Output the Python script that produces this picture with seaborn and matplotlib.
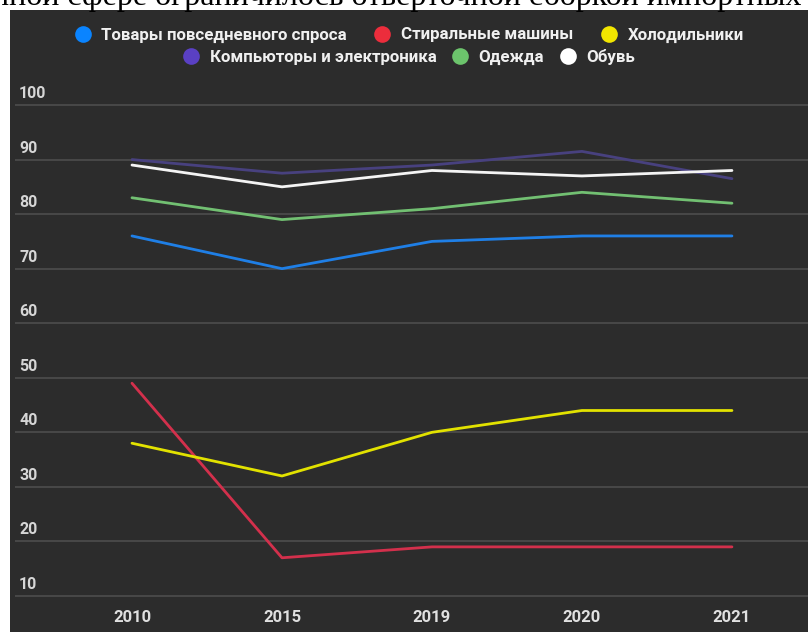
import pandas as pd
import matplotlib.pyplot as plt
import matplotlib.transforms as mtransforms
import seaborn as sns
from matplotlib.lines import Line2D
from matplotlib.patches import Rectangle

# Data
years = ['2010', '2015', '2019', '2020', '2021']
categories = ['Товары повседневного спроса', 'Стиральные машины', 'Холодильники',
              'Компьюторы и электроника', 'Одежда', 'Обувь']
goods = [76, 70, 75, 76, 76]
washers = [49, 17, 19, 19, 19]
fridges = [38, 32, 40, 44, 44]
computers = [90, 87.5, 89, 91.5, 86.5]
clothes = [83, 79, 81, 84, 82]
shoes = [89, 85, 88, 87, 88]
yticks = [10, 20, 30, 40, 50, 60, 70, 80, 90, 100]
ylabels = ['10', '20', '30', '40', '50', '60', '70', '80', '90', '100']

line_colors = ['#1f7fe6', '#d3304c', '#e2e200', '#48417f', '#72c072', '#f4f4f4']
legend_colors = ['#0a84ff', '#ec2d3c', '#f2e600', '#5a40c4', '#6cc46c', '#ffffff']

series = [goods, washers, fridges, computers, clothes, shoes]
df = pd.DataFrame({
    'year': years * len(categories),
    'category': [c for c in categories for _ in years],
    'value': [v for s in series for v in s],
})

sns.set_style('dark')
plt.rcParams['font.family'] = ['Roboto', 'DejaVu Sans']

fig = plt.figure(figsize=(8.08, 6.32), dpi=100, facecolor='white')
W, H = 808, 632
fig.patches.append(Rectangle((10 / W, 0), 1 - 10 / W, 1 - 10 / H, transform=fig.transFigure,
                             facecolor='#2c2c2c', edgecolor='none', zorder=-10))

# cut-off line of article text above the chart
fig.text(-0.01, 1 - 5 / H, 'иной сфере ограничилось отвёрточной сборкой импортных',
         family='Liberation Serif', fontsize=23, color='black', va='baseline', ha='left')

ax = fig.add_axes([15 / W, (632 - 598.7) / H, 793 / W, (598.7 - 102.3) / H])
ax.set_facecolor('none')

sns.lineplot(data=df, x='year', y='value', hue='category', hue_order=categories,
             palette=line_colors, linewidth=2.0, sort=False, legend=False, ax=ax)

ax.set_xlim(-0.78, 4.507)
ax.set_ylim(9.5, 100.5)
ax.set_yticks(yticks, ylabels, ha='left', va='bottom')
ax.grid(axis='y', color='#4a4a4a', linewidth=1.3)
ax.grid(axis='x', visible=False)
for s in ax.spines.values():
    s.set_visible(False)
ax.tick_params(axis='y', length=0, pad=-3, labelsize=11.5, labelcolor='#d6d6d6')
ax.tick_params(axis='x', length=0, pad=8, labelsize=12, labelcolor='#e0e0e0')
shift = mtransforms.ScaledTranslation(0, 0.04, fig.dpi_scale_trans)
for lbl in ax.get_yticklabels():
    lbl.set_fontweight('bold')
    lbl.set_transform(lbl.get_transform() + shift)
for lbl in ax.get_xticklabels():
    lbl.set_fontweight('bold')
ax.set_xlabel('')
ax.set_ylabel('')

handles = [Line2D([], [], marker='o', linestyle='', markersize=12, markerfacecolor=c,
                  markeredgewidth=0) for c in legend_colors]
spacing = [1.5, 0.8]
for i, yy in enumerate([1 - 35 / H, 1 - 57 / H]):
    leg = fig.legend(handles[3 * i:3 * i + 3], categories[3 * i:3 * i + 3], loc='center',
                     bbox_to_anchor=(0.505, yy), ncol=3, frameon=False, handlelength=1.2,
                     handletextpad=0.5, columnspacing=spacing[i], borderaxespad=0,
                     prop={'size': 12.2, 'weight': 'bold'})
    for t in leg.get_texts():
        t.set_color('#f0f0f0')

fig.savefig('out.png', dpi=100, facecolor=fig.get_facecolor())
